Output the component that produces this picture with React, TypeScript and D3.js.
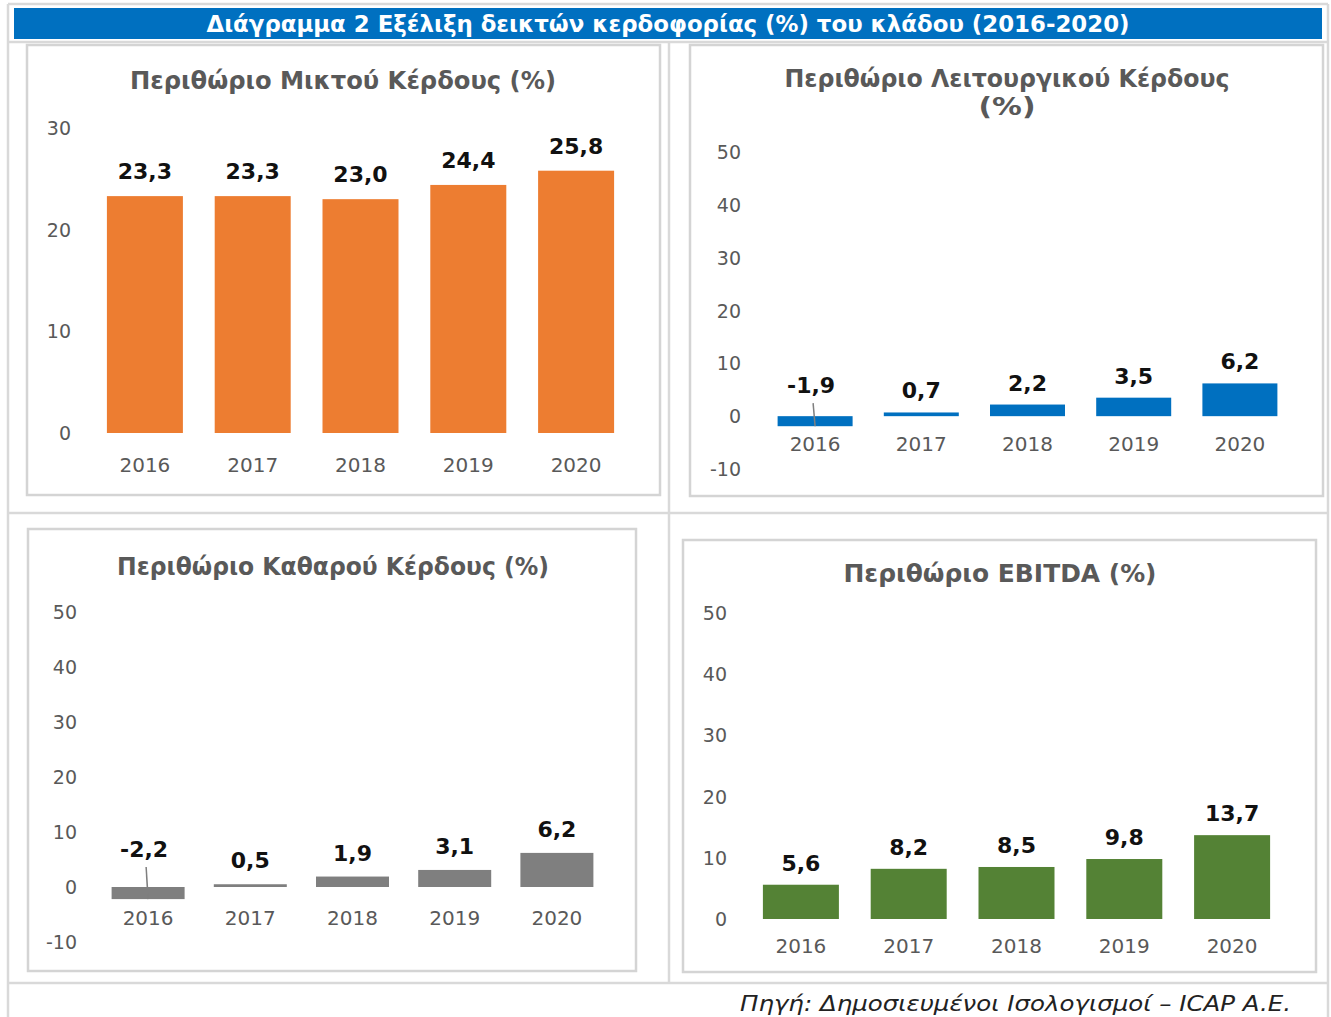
import React from 'react';
import * as d3 from 'd3';

// data
const years = ['2016', '2017', '2018', '2019', '2020'];
const grossMargin = [23.3, 23.3, 23.0, 24.4, 25.8];
const operatingMargin = [-1.9, 0.7, 2.2, 3.5, 6.2];
const netMargin = [-2.2, 0.5, 1.9, 3.1, 6.2];
const ebitdaMargin = [5.6, 8.2, 8.5, 9.8, 13.7];
const ticksGross = [0, 10, 20, 30];
const ticksWide = [-10, 0, 10, 20, 30, 40, 50];
const ticksEbitda = [0, 10, 20, 30, 40, 50];

const FONT = '"DejaVu Sans", Verdana, sans-serif';
const GRAY = '#595959';
const LINE = '#d9d9d9';

type PanelProps = {
  box: [number, number, number, number];
  title: string[];
  titleX: number;
  titleY: number[];
  titleLen: number[];
  values: number[];
  ticks: number[];
  yRange: [number, number];
  xRange: [number, number];
  barWidth: number;
  tickX: number;
  yearY: number;
  color: string;
  labelGap: number;
  negLabelUp: number;
};

const fmt = (v: number) => v.toFixed(1).replace('.', ',');

const Panel = (p: PanelProps) => {
  const y = d3.scaleLinear().domain([p.ticks[0], p.ticks[p.ticks.length - 1]]).range(p.yRange);
  const step = (p.xRange[1] - p.xRange[0]) / years.length;
  const pad = 1 - p.barWidth / step;
  const x = d3.scaleBand().domain(years).range(p.xRange).paddingInner(pad).paddingOuter(pad / 2);
  const [bx, by, bw, bh] = p.box;
  return (
    <g>
      <rect x={bx} y={by} width={bw} height={bh} fill="#fff" stroke="#d4d4d4" strokeWidth={2.5} />
      {p.title.map((t, i) => (
        <text key={t} x={p.titleX} y={p.titleY[i]} textAnchor="middle" fontSize={24} fontWeight="bold"
          fill={GRAY} fontFamily={FONT} textLength={p.titleLen[i]} lengthAdjust="spacingAndGlyphs">{t}</text>
      ))}
      {p.ticks.map(t => (
        <text key={t} x={p.tickX} y={y(t) + 7} textAnchor="end" fontSize={19} fill={GRAY} fontFamily={FONT}>{t}</text>
      ))}
      {p.values.map((v, i) => {
        const cx = (x(years[i]) as number) + x.bandwidth() / 2;
        const top = y(Math.max(v, 0));
        const bot = y(Math.min(v, 0));
        const neg = v < 0;
        const ly = neg ? y(0) - p.negLabelUp : top - p.labelGap;
        return (
          <g key={years[i]}>
            <rect x={x(years[i])} y={top} width={x.bandwidth()} height={Math.max(bot - top, 1)} fill={p.color} />
            {neg && <line x1={cx - 2} y1={ly + 10} x2={cx} y2={bot} stroke="#7f7f7f" strokeWidth={1.5} />}
            <text x={cx - (neg ? 4 : 0)} y={ly} textAnchor="middle" fontSize={22} fontWeight="bold" fill="#111" fontFamily={FONT}>{fmt(v)}</text>
            <text x={cx} y={p.yearY} textAnchor="middle" fontSize={20} fill={GRAY} fontFamily={FONT}>{years[i]}</text>
          </g>
        );
      })}
    </g>
  );
};

const App = () => {
  const W = 1331;
  const H = 1017;
  return (
    <div style={{ position: 'absolute', left: 0, top: 0 }}>
      <svg width={W} height={H} style={{ display: 'block', background: '#fff' }}>
        {/* table frame */}
        <g stroke={LINE} strokeWidth={2.5}>
          <line x1={8} y1={4} x2={1328} y2={4} />
          <line x1={8} y1={4} x2={8} y2={H} />
          <line x1={1328} y1={4} x2={1328} y2={H} />
          <line x1={8} y1={42} x2={1328} y2={42} />
          <line x1={669} y1={42} x2={669} y2={983} />
          <line x1={8} y1={513} x2={1328} y2={513} />
          <line x1={8} y1={983} x2={1328} y2={983} />
        </g>
        <rect x={14} y={8} width={1308} height={31} fill="#0070C0" />
        <text x={668} y={32} textAnchor="middle" fontSize={23} fontWeight="bold" fill="#fff" fontFamily={FONT}
          textLength={923} lengthAdjust="spacingAndGlyphs">Διάγραμμα 2 Εξέλιξη δεικτών κερδοφορίας (%) του κλάδου (2016-2020)</text>

        <Panel box={[27, 45, 633, 450]} title={['Περιθώριο Μικτού Κέρδους (%)']} titleX={343} titleY={[89]} titleLen={[426]}
          values={grossMargin} ticks={ticksGross} yRange={[433, 128]} xRange={[91, 630]} barWidth={76}
          tickX={71} yearY={472} color="#ED7D31" labelGap={17} negLabelUp={25} />
        <Panel box={[690, 45, 633, 451]} title={['Περιθώριο Λειτουργικού Κέρδους', '(%)']} titleX={1007} titleY={[87, 115]}
          titleLen={[445, 57]}
          values={operatingMargin} ticks={ticksWide} yRange={[469, 152]} xRange={[762, 1293]} barWidth={75}
          tickX={741} yearY={451} color="#0070C0" labelGap={14} negLabelUp={23} />
        <Panel box={[28, 529, 608, 442]} title={['Περιθώριο Καθαρού Κέρδους (%)']} titleX={333} titleY={[575]} titleLen={[432]}
          values={netMargin} ticks={ticksWide} yRange={[942, 612]} xRange={[97, 608]} barWidth={73}
          tickX={77} yearY={925} color="#7F7F7F" labelGap={16} negLabelUp={30} />
        <Panel box={[683, 540, 633, 432]} title={['Περιθώριο EBITDA (%)']} titleX={1000} titleY={[582]} titleLen={[313]}
          values={ebitdaMargin} ticks={ticksEbitda} yRange={[919, 613]} xRange={[747, 1286]} barWidth={76}
          tickX={727} yearY={953} color="#548235" labelGap={14} negLabelUp={25} />

        <text x={1291} y={1011} textAnchor="end" fontSize={22} fontStyle="italic" fill="#222" fontFamily={FONT}
          textLength={551} lengthAdjust="spacingAndGlyphs">Πηγή: Δημοσιευμένοι Ισολογισμοί – ICAP A.E.</text>
      </svg>
    </div>
  );
};

export default App;
